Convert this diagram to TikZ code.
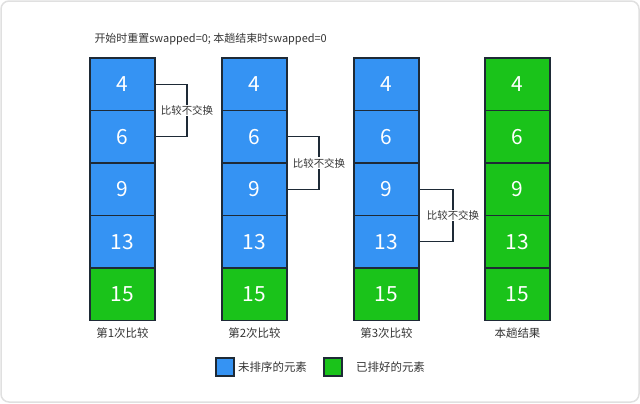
\documentclass[tikz,border=0pt]{standalone}
\usepackage{fontspec}
\setmainfont{Noto Sans CJK SC}
\usetikzlibrary{positioning}
\definecolor{unsorted}{HTML}{3593F3}
\definecolor{sorted}{HTML}{1AC31A}
\definecolor{cellline}{HTML}{1E2A36}
\definecolor{textgray}{HTML}{333333}

\begin{document}
\begin{tikzpicture}[x=1bp, y=-1bp,
    cell/.style={draw=cellline, line width=1.3bp, outer sep=0pt, minimum width=65bp, minimum height=52.5bp, text=white, font=\fontsize{21}{21}\selectfont},
    todo/.style={cell, fill=unsorted},
    done/.style={cell, fill=sorted},
    caption/.style={text=textgray, font=\fontsize{11.5}{12}\selectfont},
    note/.style={fill=white, inner sep=1bp, text=textgray, font=\fontsize{10.5}{11}\selectfont},
    key/.style={draw=cellline, line width=1.3bp, minimum size=18bp, inner sep=0pt},
    brk/.style={draw=cellline, line width=1.1bp}
]
\useasboundingbox (0,0) rectangle (640,403);
\draw[black!12, line width=1.5bp, rounded corners=8bp] (1,1) rectangle (639,402);

\node[caption, anchor=west, font=\fontsize{11}{12}\selectfont] (title) at (91,39) {开始时重置swapped=0; 本趟结束时swapped=0};

% first pass
\node[todo] (a1) at (122.5,84.25) {4};
\node[todo, below=0pt of a1] (a2) {6};
\node[todo, below=0pt of a2] (a3) {9};
\node[todo, below=0pt of a3] (a4) {13};
\node[done, below=0pt of a4] (a5) {15};
\node[caption, below=4bp of a5] (cap1) {第1次比较};

% second pass
\node[todo] (b1) at (254.5,84.25) {4};
\node[todo, below=0pt of b1] (b2) {6};
\node[todo, below=0pt of b2] (b3) {9};
\node[todo, below=0pt of b3] (b4) {13};
\node[done, below=0pt of b4] (b5) {15};
\node[caption, below=4bp of b5] (cap2) {第2次比较};

% third pass
\node[todo] (c1) at (386.5,84.25) {4};
\node[todo, below=0pt of c1] (c2) {6};
\node[todo, below=0pt of c2] (c3) {9};
\node[todo, below=0pt of c3] (c4) {13};
\node[done, below=0pt of c4] (c5) {15};
\node[caption, below=4bp of c5] (cap3) {第3次比较};

% result
\node[done] (d1) at (517.5,84.25) {4};
\node[done, below=0pt of d1] (d2) {6};
\node[done, below=0pt of d2] (d3) {9};
\node[done, below=0pt of d3] (d4) {13};
\node[done, below=0pt of d4] (d5) {15};
\node[caption, below=4bp of d5] (cap4) {本趟结果};

\draw[brk] (a1.east) -- ++(32,0) |- node[pos=0.25, note]{比较不交换} (a2.east);
\draw[brk] (b2.east) -- ++(32,0) |- node[pos=0.25, note]{比较不交换} (b3.east);
\draw[brk] (c3.east) -- ++(34,0) |- node[pos=0.25, note]{比较不交换} (c4.east);

% legend
\node[key, fill=unsorted] (k1) at (225,367) {};
\node[caption, right=0bp of k1] (k1t) {未排序的元素};
\node[key, fill=sorted] (k2) at (333,367) {};
\node[caption, right=10bp of k2] (k2t) {已排好的元素};
\end{tikzpicture}
\end{document}
